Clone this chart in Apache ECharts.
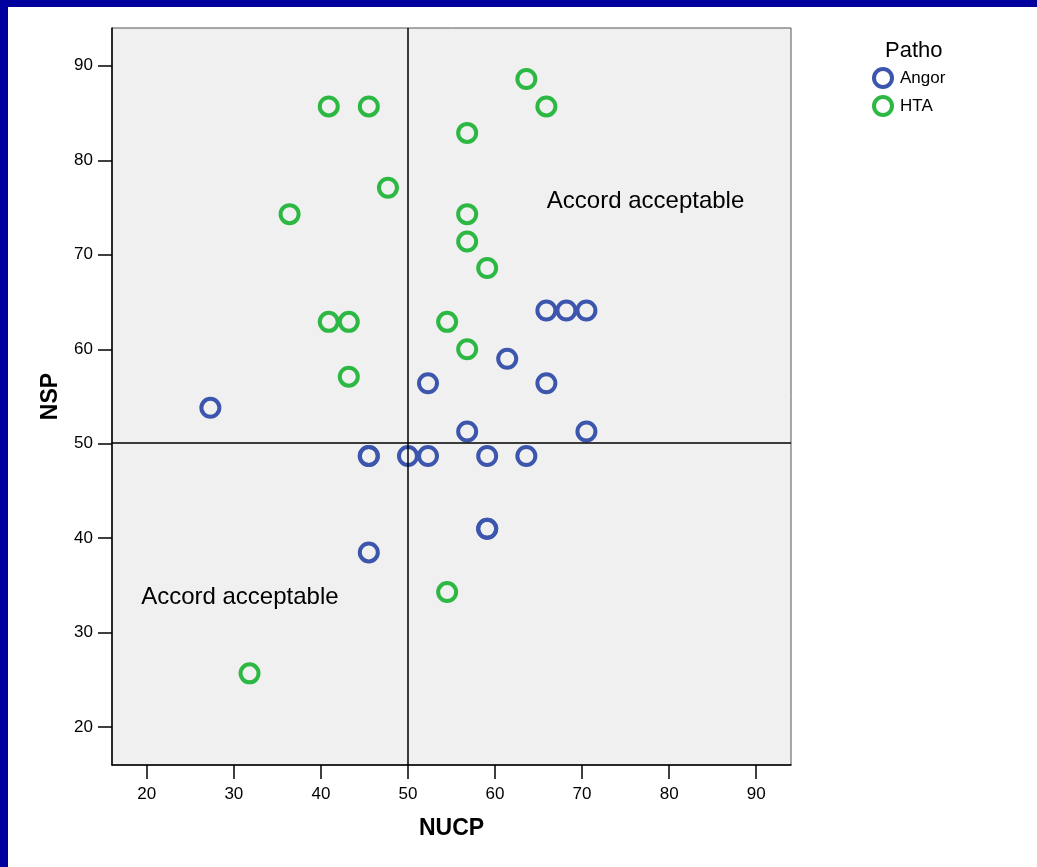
<!DOCTYPE html>
<html>
<head>
<meta charset="utf-8">
<script src="https://cdn.jsdelivr.net/npm/echarts@6/dist/echarts.min.js"></script>
<style>
  html, body { margin: 0; padding: 0; width: 1037px; height: 867px; overflow: hidden; background: #00009f; }
  #paper { position: absolute; left: 8px; top: 7px; right: 0; bottom: 0; background: #ffffff; }
  #chart { position: absolute; left: 0; top: 0; width: 1037px; height: 867px; }
</style>
</head>
<body>
<div id="paper"></div>
<div id="chart"></div>
<script>
// ---- data ----
const seriesNames = ['Angor', 'HTA'];
// [NUCP, NSP]
const angorPoints = [
  [65.9, 64.1], [68.2, 64.1], [70.5, 64.1],
  [61.4, 59.0],
  [52.3, 56.4], [65.9, 56.4],
  [27.3, 53.8],
  [56.8, 51.3], [70.5, 51.3],
  [45.5, 48.7], [45.5, 48.7], [50.0, 48.7], [52.3, 48.7], [59.1, 48.7], [63.6, 48.7],
  [59.1, 41.0], [59.1, 41.0],
  [45.5, 38.5]
];
const htaPoints = [
  [63.6, 88.6],
  [40.9, 85.7], [45.5, 85.7], [65.9, 85.7],
  [56.8, 82.9],
  [47.7, 77.1],
  [36.4, 74.3], [56.8, 74.3],
  [56.8, 71.4],
  [59.1, 68.6],
  [40.9, 62.9], [43.2, 62.9], [54.5, 62.9],
  [56.8, 60.0],
  [43.2, 57.1],
  [54.5, 34.3],
  [31.8, 25.7]
];
const xTicks = [20, 30, 40, 50, 60, 70, 80, 90];
const yTicks = [20, 30, 40, 50, 60, 70, 80, 90];
const refLineX = 50;
const refLineY = 50.1;
const noteLabels = [
  [65.95, 75.7, 'Accord acceptable'],
  [19.35, 33.7, 'Accord acceptable']
];
const legendTitle = 'Patho';
const xName = 'NUCP';
const yName = 'NSP';

// ---- chart ----
const FONT = "'Liberation Sans', Arial, Helvetica, sans-serif";
const BLUE = '#3c56ad';
const GREEN = '#2cb842';

const chart = echarts.init(document.getElementById('chart'), null, { renderer: 'canvas' });

const axisCommon = {
  type: 'value',
  min: 16,
  max: 94,
  nameLocation: 'middle',
  nameTextStyle: { fontFamily: FONT, fontSize: 23, fontWeight: 'bold', color: '#000' },
  axisLine: { show: true, onZero: false, lineStyle: { color: '#000', width: 1.5 } },
  axisTick: { show: true, inside: false, length: 14, lineStyle: { color: '#000', width: 1.5 } },
  axisLabel: { fontFamily: FONT, fontSize: 17, color: '#000' },
  splitLine: { show: false }
};

chart.setOption({
  animation: false,
  backgroundColor: 'transparent',
  textStyle: { fontFamily: FONT },
  title: {
    text: legendTitle,
    left: 885,
    top: 40,
    padding: 0,
    textStyle: { fontFamily: FONT, fontSize: 22, fontWeight: 'normal', color: '#000' }
  },
  legend: {
    data: seriesNames,
    orient: 'vertical',
    left: 872,
    top: 67,
    padding: 0,
    itemWidth: 18,
    itemHeight: 18,
    itemGap: 6,
    icon: 'circle',
    itemStyle: { borderWidth: 4 },
    selectedMode: false,
    textStyle: { fontFamily: FONT, fontSize: 17, color: '#000', padding: [0, 0, 0, 3] }
  },
  grid: {
    left: 112,
    right: 246,
    top: 28,
    bottom: 102,
    show: true,
    backgroundColor: '#f0f0f0',
    borderColor: '#555',
    borderWidth: 1
  },
  xAxis: Object.assign({}, axisCommon, {
    name: xName,
    nameGap: 52,
    axisTick: Object.assign({}, axisCommon.axisTick, { customValues: xTicks }),
    axisLabel: Object.assign({}, axisCommon.axisLabel, { customValues: xTicks, margin: 21 })
  }),
  yAxis: Object.assign({}, axisCommon, {
    name: yName,
    nameGap: 50,
    axisTick: Object.assign({}, axisCommon.axisTick, { customValues: yTicks }),
    axisLabel: Object.assign({}, axisCommon.axisLabel, { customValues: yTicks, margin: 19 })
  }),
  series: [
    {
      name: seriesNames[0],
      type: 'scatter',
      symbol: 'circle',
      symbolSize: 18,
      silent: true,
      itemStyle: { color: 'rgba(0,0,0,0)', borderColor: BLUE, borderWidth: 4, opacity: 1 },
      data: angorPoints,
      z: 2
    },
    {
      name: seriesNames[1],
      type: 'scatter',
      symbol: 'circle',
      symbolSize: 18,
      silent: true,
      itemStyle: { color: 'rgba(0,0,0,0)', borderColor: GREEN, borderWidth: 4, opacity: 1 },
      data: htaPoints,
      z: 2
    },
    {
      name: 'notes',
      type: 'scatter',
      symbolSize: 0,
      silent: true,
      itemStyle: { color: '#000', opacity: 1 },
      data: noteLabels,
      label: {
        show: true,
        position: 'right',
        distance: 0,
        formatter: p => p.data[2],
        fontFamily: FONT,
        fontSize: 24,
        color: '#000',
        opacity: 1
      },
      markLine: {
        silent: true,
        symbol: ['none', 'none'],
        label: { show: false },
        lineStyle: { color: '#000', width: 1.5, type: 'solid', opacity: 1 },
        data: [{ xAxis: refLineX }, { yAxis: refLineY }]
      },
      z: 5
    }
  ]
});
</script>
</body>
</html>
